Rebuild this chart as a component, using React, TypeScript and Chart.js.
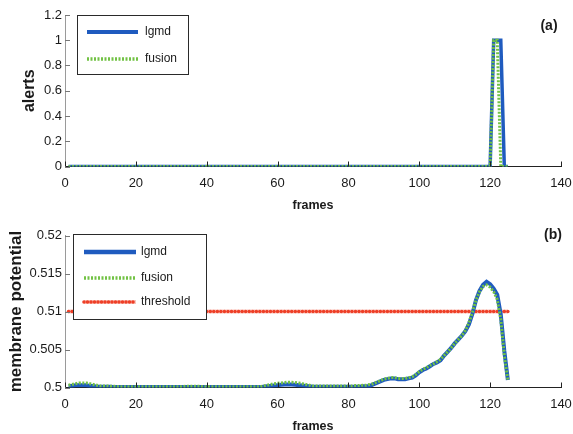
import React, { useEffect, useRef } from 'react';
import { Chart, registerables } from 'chart.js';

Chart.register(...registerables);
Chart.defaults.font.family = "'Liberation Sans', Arial, sans-serif";

// ---------- data ----------
const frameCount = 125;
const frames: number[] = Array.from({ length: frameCount }, (_, i) => i + 1);

const xTickValues = [0, 20, 40, 60, 80, 100, 120, 140];

const alertTickValues = [0, 0.2, 0.4, 0.6, 0.8, 1, 1.2];
const alertTickLabels = ['0', '0.2', '0.4', '0.6', '0.8', '1', '1.2'];

const potTickValues = [0.5, 0.505, 0.51, 0.515, 0.52];
const potTickLabels = ['0.5', '0.505', '0.51', '0.515', '0.52'];

// (a) alerts, frames 1..125
const alertsLgmd = [
  0, 0, 0, 0, 0, 0, 0, 0, 0, 0, 0, 0, 0, 0, 0, 0, 0, 0, 0, 0,
  0, 0, 0, 0, 0, 0, 0, 0, 0, 0, 0, 0, 0, 0, 0, 0, 0, 0, 0, 0,
  0, 0, 0, 0, 0, 0, 0, 0, 0, 0, 0, 0, 0, 0, 0, 0, 0, 0, 0, 0,
  0, 0, 0, 0, 0, 0, 0, 0, 0, 0, 0, 0, 0, 0, 0, 0, 0, 0, 0, 0,
  0, 0, 0, 0, 0, 0, 0, 0, 0, 0, 0, 0, 0, 0, 0, 0, 0, 0, 0, 0,
  0, 0, 0, 0, 0, 0, 0, 0, 0, 0, 0, 0, 0, 0, 0, 0, 0, 0, 0, 0,
  1, 1, 1, 0, 0,
];
const alertsFusion = [
  0, 0, 0, 0, 0, 0, 0, 0, 0, 0, 0, 0, 0, 0, 0, 0, 0, 0, 0, 0,
  0, 0, 0, 0, 0, 0, 0, 0, 0, 0, 0, 0, 0, 0, 0, 0, 0, 0, 0, 0,
  0, 0, 0, 0, 0, 0, 0, 0, 0, 0, 0, 0, 0, 0, 0, 0, 0, 0, 0, 0,
  0, 0, 0, 0, 0, 0, 0, 0, 0, 0, 0, 0, 0, 0, 0, 0, 0, 0, 0, 0,
  0, 0, 0, 0, 0, 0, 0, 0, 0, 0, 0, 0, 0, 0, 0, 0, 0, 0, 0, 0,
  0, 0, 0, 0, 0, 0, 0, 0, 0, 0, 0, 0, 0, 0, 0, 0, 0, 0, 0, 0,
  1, 1, 0, 0, 0,
];

// (b) membrane potential, frames 1..125
const potLgmd = [
  0.5002, 0.5002, 0.5003, 0.5003, 0.5003, 0.5003, 0.5002, 0.5002, 0.5001, 0.5001,
  0.5001, 0.5001, 0.5001, 0.50005, 0.50005, 0.50005, 0.50005, 0.50005, 0.50005, 0.50005,
  0.50005, 0.50005, 0.50005, 0.50005, 0.50005, 0.50005, 0.50005, 0.50005, 0.50005, 0.50005,
  0.50005, 0.50005, 0.50005, 0.50005, 0.50005, 0.50005, 0.50005, 0.50005, 0.50005, 0.50005,
  0.50005, 0.50005, 0.50005, 0.50005, 0.50005, 0.50005, 0.50005, 0.50005, 0.50005, 0.50005,
  0.50005, 0.50005, 0.50005, 0.50005, 0.50005, 0.5001, 0.50015, 0.5002, 0.50025, 0.5003,
  0.50035, 0.5004, 0.5004, 0.5004, 0.50035, 0.5003, 0.50025, 0.5002, 0.50015, 0.5001,
  0.5001, 0.5001, 0.5001, 0.5001, 0.5001, 0.5001, 0.5001, 0.5001, 0.5001, 0.5001,
  0.5001, 0.5001, 0.5001, 0.50015, 0.50015, 0.5002, 0.5004, 0.5006, 0.5008, 0.501,
  0.5011, 0.5012, 0.5012, 0.5011, 0.5011, 0.5011, 0.5012, 0.5013, 0.5016, 0.502,
  0.5023, 0.5025, 0.5028, 0.5031, 0.5033, 0.5036, 0.5042, 0.5047, 0.5052, 0.5058,
  0.5063, 0.5068, 0.5074, 0.5083, 0.5097, 0.5115, 0.5127, 0.5135, 0.5139, 0.5136,
  0.513, 0.5122, 0.5096, 0.5048, 0.501,
];
const potFusion = [
  0.5003, 0.5004, 0.5005, 0.5006, 0.5006, 0.5006, 0.5005, 0.5004, 0.5003, 0.5002,
  0.5002, 0.5002, 0.50015, 0.50015, 0.5001, 0.5001, 0.5001, 0.5001, 0.5001, 0.5001,
  0.5001, 0.5001, 0.5001, 0.5001, 0.5001, 0.5001, 0.5001, 0.5001, 0.5001, 0.5001,
  0.5001, 0.5001, 0.5001, 0.50015, 0.50015, 0.50015, 0.50015, 0.50015, 0.5001, 0.5001,
  0.5001, 0.5001, 0.5001, 0.5001, 0.5001, 0.5001, 0.5001, 0.5001, 0.5001, 0.5001,
  0.5001, 0.5001, 0.5001, 0.5001, 0.5001, 0.5002, 0.5003, 0.5004, 0.5005, 0.50055,
  0.5006, 0.50065, 0.5007, 0.5007, 0.50065, 0.5006, 0.5005, 0.5004, 0.5003, 0.5002,
  0.5002, 0.5002, 0.5002, 0.5002, 0.5002, 0.5002, 0.5002, 0.5002, 0.5002, 0.5002,
  0.5002, 0.50025, 0.50025, 0.5003, 0.5003, 0.5004, 0.5005, 0.5007, 0.5009, 0.5011,
  0.5012, 0.5013, 0.5013, 0.5012, 0.5012, 0.5012, 0.5013, 0.5014, 0.5017, 0.5021,
  0.5024, 0.5026, 0.5029, 0.5031, 0.5034, 0.5037, 0.5042, 0.5047, 0.5052, 0.5058,
  0.5063, 0.5068, 0.5075, 0.5085, 0.5099, 0.5115, 0.5126, 0.5133, 0.5135, 0.5132,
  0.5126, 0.5116, 0.509, 0.5042, 0.501,
];
const thresholdLevel = 0.51;

// ---------- styles ----------
const BLUE = '#1f5bbf';
const GREEN = '#72c244';
const RED = '#ee3f27';
const RED_HALO = 'rgba(242,130,110,0.45)';
const TEXT = '#1a1a1a';

const pts = (ys: number[]) => frames.map((f, i) => ({ x: f, y: ys[i] }));

// ---------- plugins ----------
const inwardTicks = {
  id: 'inwardTicks',
  afterDraw(chart: any) {
    const { ctx, chartArea, scales } = chart;
    ctx.save();
    ctx.lineWidth = 1;
    ctx.strokeStyle = '#222';
    for (const t of scales.x.ticks) {
      const px = Math.round(scales.x.getPixelForValue(t.value)) + 0.5;
      ctx.beginPath();
      ctx.moveTo(px, chartArea.bottom);
      ctx.lineTo(px, chartArea.bottom - 5);
      ctx.stroke();
    }
    ctx.strokeStyle = '#777';
    for (const t of scales.y.ticks) {
      const py = Math.round(scales.y.getPixelForValue(t.value)) + 0.5;
      ctx.beginPath();
      ctx.moveTo(chartArea.left, py);
      ctx.lineTo(chartArea.left + 5, py);
      ctx.stroke();
    }
    ctx.restore();
  },
};

const boxLegend = {
  id: 'boxLegend',
  afterDraw(chart: any, _args: any, opts: any) {
    if (!opts || !opts.box) return;
    const { ctx } = chart;
    const { box, rowsY, lineX, textX } = opts;
    ctx.save();
    ctx.fillStyle = '#fff';
    ctx.fillRect(box.x, box.y, box.w, box.h);
    ctx.strokeStyle = '#2a2a2a';
    ctx.lineWidth = 1;
    ctx.strokeRect(box.x + 0.5, box.y + 0.5, box.w, box.h);
    chart.data.datasets.forEach((ds: any, i: number) => {
      const y = rowsY[i];
      if (ds.pointRadius > 0) {
        ctx.strokeStyle = ds.borderColor;
        ctx.lineWidth = ds.borderWidth;
        ctx.beginPath();
        ctx.moveTo(lineX[0], y);
        ctx.lineTo(lineX[1], y);
        ctx.stroke();
        ctx.fillStyle = ds.pointBackgroundColor;
        for (let x = lineX[0]; x <= lineX[1]; x += 3.5) {
          ctx.beginPath();
          ctx.arc(x, y, ds.pointRadius, 0, Math.PI * 2);
          ctx.fill();
        }
      } else {
        ctx.strokeStyle = ds.borderColor;
        ctx.lineWidth = ds.borderWidth + 0.5;
        ctx.setLineDash(ds.borderDash || []);
        ctx.beginPath();
        ctx.moveTo(lineX[0], y);
        ctx.lineTo(lineX[1], y);
        ctx.stroke();
        ctx.setLineDash([]);
      }
      ctx.fillStyle = TEXT;
      ctx.font = "12px 'Liberation Sans', Arial, sans-serif";
      ctx.textBaseline = 'middle';
      ctx.textAlign = 'left';
      ctx.fillText(ds.label, textX, y);
    });
    ctx.restore();
  },
};

const panelTag = {
  id: 'panelTag',
  afterDraw(chart: any, _args: any, opts: any) {
    if (!opts || !opts.text) return;
    const { ctx } = chart;
    ctx.save();
    ctx.fillStyle = TEXT;
    ctx.font = "bold 14px 'Liberation Sans', Arial, sans-serif";
    ctx.textAlign = 'center';
    ctx.textBaseline = 'middle';
    ctx.fillText(opts.text, opts.x, opts.y);
    ctx.restore();
  },
};

// ---------- shared scale builders ----------
function xScale(height: number, titlePadBottom: number) {
  return {
    type: 'linear',
    min: 0,
    max: 140,
    afterFit: (s: any) => {
      s.height = height;
      s.paddingLeft = 0;
      s.paddingRight = 0;
    },
    afterBuildTicks: (s: any) => { s.ticks = xTickValues.map((v) => ({ value: v })); },
    grid: { display: false, drawTicks: false },
    border: { display: true, color: '#222', width: 1 },
    ticks: { padding: 9, color: TEXT, font: { size: 13 }, callback: (v: any) => String(v) },
    title: {
      display: true,
      text: 'frames',
      color: TEXT,
      font: { size: 12.5, weight: 'bold' },
      padding: { top: 0, bottom: titlePadBottom },
    },
  };
}

function yScale(min: number, max: number, values: number[], labels: string[], title: string, titleSize: number, titlePad: number) {
  return {
    type: 'linear',
    min,
    max,
    afterFit: (s: any) => { s.width = 65; },
    afterBuildTicks: (s: any) => { s.ticks = values.map((v) => ({ value: v })); },
    grid: { display: false, drawTicks: false },
    border: { display: true, color: '#9a9a9a', width: 1 },
    ticks: {
      padding: 3,
      color: TEXT,
      font: { size: 13 },
      callback: (_v: any, i: number) => labels[i],
    },
    title: {
      display: true,
      text: title,
      color: TEXT,
      font: { size: titleSize, weight: 'bold' },
      padding: { top: titlePad, bottom: 0 },
    },
  };
}

// ---------- configs ----------
function topConfig(): any {
  return {
    type: 'line',
    data: {
      datasets: [
        { label: 'lgmd', data: pts(alertsLgmd), borderColor: BLUE, borderWidth: 3.5, pointRadius: 0, order: 2, tension: 0 },
        { label: 'fusion', data: pts(alertsFusion), borderColor: GREEN, borderWidth: 3, borderDash: [2, 1.5], pointRadius: 0, order: 1, tension: 0 },
      ],
    },
    options: {
      animation: false,
      responsive: false,
      layout: { padding: { left: 0, right: 12, top: 15, bottom: 0 } },
      plugins: {
        legend: { display: false },
        tooltip: { enabled: false },
        boxLegend: { box: { x: 77, y: 15, w: 111, h: 59 }, rowsY: [32, 59], lineX: [87, 138], textX: 145 },
        panelTag: { text: '(a)', x: 549, y: 26 },
      },
      scales: {
        x: xScale(53.5, 7),
        y: yScale(0, 1.2, alertTickValues, alertTickLabels, 'alerts', 16, 20),
      },
    },
    plugins: [inwardTicks, boxLegend, panelTag],
  };
}

function bottomConfig(): any {
  return {
    type: 'line',
    data: {
      datasets: [
        { label: 'lgmd', data: pts(potLgmd), borderColor: BLUE, borderWidth: 4, pointRadius: 0, order: 2, tension: 0 },
        { label: 'fusion', data: pts(potFusion), borderColor: GREEN, borderWidth: 3, borderDash: [2, 1.5], pointRadius: 0, order: 1, tension: 0 },
        {
          label: 'threshold',
          data: frames.map((f) => ({ x: f, y: thresholdLevel })),
          borderColor: RED_HALO,
          borderWidth: 4,
          pointRadius: 1.8,
          pointBackgroundColor: RED,
          pointBorderWidth: 0,
          order: 3,
        },
      ],
    },
    options: {
      animation: false,
      responsive: false,
      layout: { padding: { left: 0, right: 12, top: 15.5, bottom: 0 } },
      plugins: {
        legend: { display: false },
        tooltip: { enabled: false },
        boxLegend: { box: { x: 73, y: 14, w: 133, h: 85 }, rowsY: [32, 58, 82], lineX: [84, 136], textX: 141 },
        panelTag: { text: '(b)', x: 553, y: 15 },
      },
      scales: {
        x: xScale(46.5, 0),
        y: yScale(0.5, 0.52, potTickValues, potTickLabels, 'membrane potential', 17, 6),
      },
    },
    plugins: [inwardTicks, boxLegend, panelTag],
  };
}

function Plot({ make, height }: { make: () => any; height: number }) {
  const ref = useRef<HTMLCanvasElement>(null);
  useEffect(() => {
    const chart = new Chart(ref.current as HTMLCanvasElement, make());
    return () => chart.destroy();
  }, [make]);
  return <canvas ref={ref} width={573} height={height} style={{ display: 'block', width: 573, height }} />;
}

export default function App() {
  return (
    <div style={{ position: 'fixed', left: 0, top: 0, width: 573, height: 434, background: '#fff' }}>
      <Plot make={topConfig} height={220} />
      <Plot make={bottomConfig} height={214} />
    </div>
  );
}
